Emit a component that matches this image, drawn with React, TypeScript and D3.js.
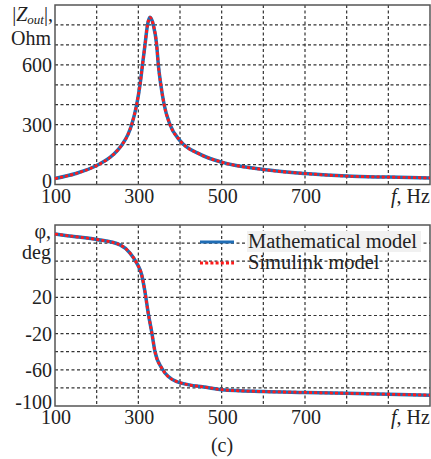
import React, { useEffect, useRef } from 'react';
import * as d3 from 'd3';

// |Zout| vs frequency (both models overlap)
const magFreq = [100, 150, 200, 240, 260, 275, 284, 296, 304, 310, 316, 322, 328, 336, 344, 348, 354, 362, 376, 400, 450, 500, 600, 700, 800, 900, 1000];
const magOhm = [30, 55, 95, 150, 197, 250, 300, 400, 500, 600, 700, 800, 838, 800, 700, 600, 500, 400, 300, 220, 150, 112, 75, 55, 42, 37, 33];

// phase vs frequency
const phaseFreq = [100, 150, 200, 256, 280, 296, 308, 316, 324, 332, 340, 356, 392, 472, 500, 600, 700, 800, 900, 1000];
const phaseDeg = [90, 87, 84, 78, 69, 58, 45, 26, 2, -18, -40, -58, -73, -80, -82, -84, -85, -86, -87, -88];

const xTickLabels = [100, 300, 500, 700];
const xGrid = [200, 300, 400, 500, 600, 700, 800, 900];
const magTicks = [0, 300, 600];
const magGrid = [100, 200, 300, 400, 500, 600, 700, 800];
const phaseTicks = [20, -20, -60, -100];
const phaseGrid = [-80, -60, -40, -20, 0, 20, 40, 60, 80];
const legendLabels = ['Mathematical model', 'Simulink model'];

const FONT = "'Liberation Serif', 'DejaVu Serif', serif";
const BLUE = '#1f6db5';
const RED = '#ff1a1a';

const App = () => {
  const ref = useRef<SVGSVGElement>(null);

  useEffect(() => {
    const svg = d3.select(ref.current);
    svg.selectAll('*').remove();

    const x = d3.scaleLinear().domain([100, 1000]).range([55, 430]);
    const yMag = d3.scaleLinear().domain([0, 900]).range([184.5, 5]);
    const yPh = d3.scaleLinear().domain([-100, 100]).range([406, 225]);

    const panel = (
      y: d3.ScaleLinear<number, number>,
      grid: number[],
      ticks: number[],
      fx: number[],
      fy: number[],
    ) => {
      const g = svg.append('g');
      const [y0, y1] = y.range();

      g.selectAll('.vg')
        .data(xGrid)
        .enter()
        .append('line')
        .attr('x1', (d) => x(d))
        .attr('x2', (d) => x(d))
        .attr('y1', y1)
        .attr('y2', y0)
        .attr('stroke', '#333')
        .attr('stroke-width', 1.2)
        .attr('stroke-dasharray', '3,2.5');

      g.selectAll('.hg')
        .data(grid)
        .enter()
        .append('line')
        .attr('x1', x(100))
        .attr('x2', x(1000))
        .attr('y1', (d) => y(d))
        .attr('y2', (d) => y(d))
        .attr('stroke', '#333')
        .attr('stroke-width', 1.2)
        .attr('stroke-dasharray', '3,2.5');

      g.append('rect')
        .attr('x', x(100))
        .attr('y', y1)
        .attr('width', x(1000) - x(100))
        .attr('height', y0 - y1)
        .attr('fill', 'none')
        .attr('stroke', '#555')
        .attr('stroke-width', 1.5);

      const line = d3
        .line<number>()
        .x((_, i) => x(fx[i]))
        .y((d) => y(d))
        .curve(d3.curveMonotoneX);

      g.append('path')
        .attr('d', line(fy))
        .attr('fill', 'none')
        .attr('stroke', BLUE)
        .attr('stroke-width', 3.5);
      g.append('path')
        .attr('d', line(fy))
        .attr('fill', 'none')
        .attr('stroke', RED)
        .attr('stroke-width', 2.8)
        .attr('stroke-dasharray', '3,2.2');

      // lowest label sits a bit above the frame corner
      g.selectAll('.yt')
        .data(ticks)
        .enter()
        .append('text')
        .attr('x', 52)
        .attr('y', (d) => y(d) - (Math.abs(y(d) - y0) < 1 ? 4 : 0))
        .attr('dy', '0.35em')
        .attr('text-anchor', 'end')
        .text((d) => `${d}`);

      g.selectAll('.xt')
        .data(xTickLabels)
        .enter()
        .append('text')
        .attr('x', (d) => x(d) + 1)
        .attr('y', y0 + 18)
        .attr('text-anchor', 'middle')
        .text((d) => `${d}`);

      const fl = g.append('text').attr('x', 391).attr('y', y0 + 18);
      fl.append('tspan').attr('font-style', 'italic').text('f');
      fl.append('tspan').text(', Hz');
      return g;
    };

    svg.style('font-family', FONT).attr('font-size', 20).attr('fill', '#222');

    panel(yMag, magGrid, magTicks, magFreq, magOhm);
    panel(yPh, phaseGrid, phaseTicks, phaseFreq, phaseDeg);

    // y-axis titles
    const zt = svg.append('text').attr('x', 53).attr('y', 21).attr('text-anchor', 'end');
    zt.append('tspan').text('|');
    zt.append('tspan').attr('font-style', 'italic').text('Z');
    zt.append('tspan').attr('font-style', 'italic').attr('font-size', 13).attr('dy', 3).text('out');
    zt.append('tspan').attr('dy', -3).text('|,');
    svg.append('text').attr('x', 51).attr('y', 45).attr('text-anchor', 'end').text('Ohm');
    svg.append('text').attr('x', 51).attr('y', 238).attr('text-anchor', 'end').text('φ,');
    svg.append('text').attr('x', 51).attr('y', 259).attr('text-anchor', 'end').text('deg');

    // legend
    svg.append('rect')
      .attr('x', 247)
      .attr('y', 231)
      .attr('width', 174)
      .attr('height', 21)
      .attr('fill', '#f1f1f1');
    const legY = [242, 263];
    svg.selectAll('.lg')
      .data(legendLabels)
      .enter()
      .append('line')
      .attr('x1', 200)
      .attr('x2', 234)
      .attr('y1', (_, i) => legY[i])
      .attr('y2', (_, i) => legY[i])
      .attr('stroke', (_, i) => (i === 0 ? BLUE : RED))
      .attr('stroke-width', (_, i) => (i === 0 ? 3 : 2.8))
      .attr('stroke-dasharray', (_, i) => (i === 0 ? null : '3,2.2'));
    svg.selectAll('.lt')
      .data(legendLabels)
      .enter()
      .append('text')
      .attr('x', 248)
      .attr('y', (_, i) => legY[i] + 6)
      .attr('font-size', 20.5)
      .text((d) => d);

    svg.append('text')
      .attr('x', 222)
      .attr('y', 452)
      .attr('text-anchor', 'middle')
      .text('(c)');
  }, []);

  return (
    <svg
      ref={ref}
      width={431}
      height={459}
      style={{ position: 'absolute', left: 0, top: 0, background: '#fff' }}
    />
  );
};

export default App;
